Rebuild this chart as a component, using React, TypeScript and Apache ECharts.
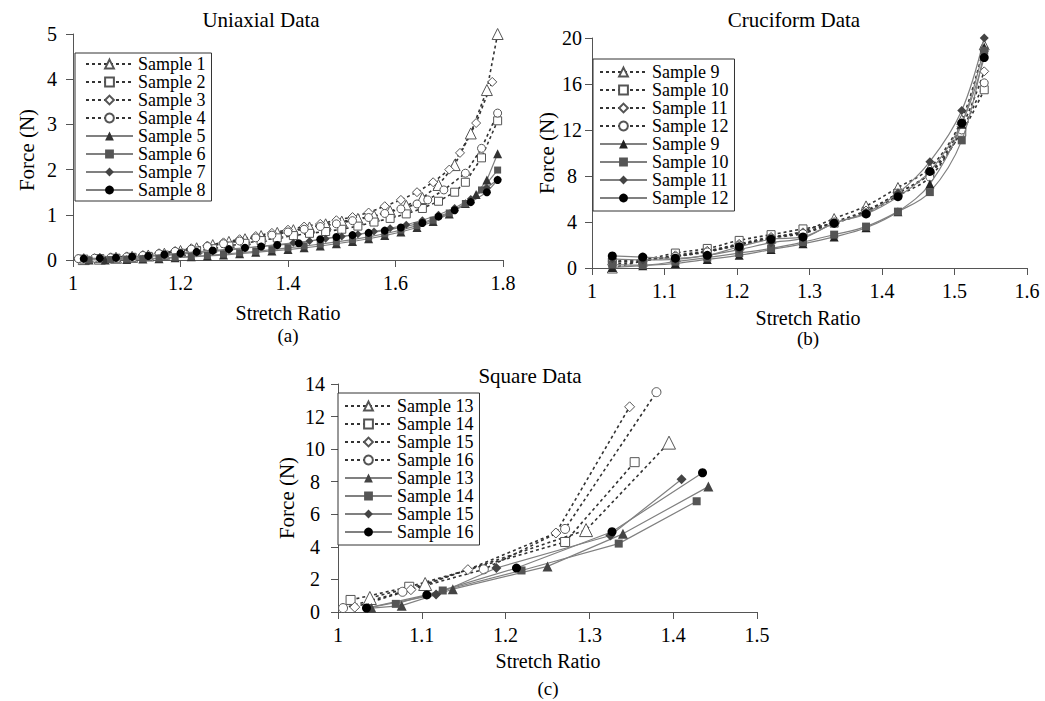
import React, { useEffect, useRef } from "react";
import * as echarts from "echarts";

const FONT = "Liberation Serif";

// ---------- (a) Uniaxial data ----------
const xA1 = [1.02,1.05,1.08,1.11,1.14,1.17,1.2,1.23,1.26,1.29,1.32,1.35,1.38,1.41,1.44,1.47,1.5,1.53,1.56,1.59,1.62,1.65,1.68,1.71,1.74,1.77,1.79];
const fA1 = [0.02,0.03,0.05,0.07,0.1,0.14,0.2,0.26,0.33,0.4,0.46,0.53,0.6,0.66,0.72,0.79,0.85,0.91,0.98,1.08,1.2,1.37,1.66,2.1,2.8,3.76,5.0];
const xA2 = [1.02,1.05,1.08,1.11,1.14,1.17,1.2,1.23,1.26,1.29,1.32,1.35,1.38,1.41,1.44,1.47,1.5,1.53,1.56,1.59,1.62,1.65,1.68,1.71,1.73,1.76,1.79];
const fA2 = [0.02,0.03,0.04,0.06,0.08,0.11,0.15,0.2,0.25,0.31,0.37,0.43,0.49,0.54,0.59,0.63,0.68,0.75,0.84,0.92,1.02,1.14,1.3,1.5,1.72,2.26,3.08];
const xA3 = [1.01,1.04,1.07,1.1,1.13,1.16,1.19,1.22,1.25,1.28,1.31,1.34,1.37,1.4,1.43,1.46,1.49,1.52,1.55,1.58,1.61,1.64,1.67,1.7,1.72,1.75,1.78];
const fA3 = [0.03,0.04,0.06,0.08,0.11,0.15,0.2,0.26,0.32,0.39,0.46,0.53,0.6,0.67,0.74,0.8,0.88,0.95,1.05,1.19,1.33,1.5,1.72,2.0,2.37,3.03,3.94];
const xA4 = [1.01,1.04,1.07,1.1,1.13,1.16,1.19,1.22,1.25,1.28,1.31,1.34,1.37,1.4,1.43,1.46,1.49,1.52,1.55,1.58,1.61,1.64,1.66,1.69,1.73,1.76,1.79];
const fA4 = [0.03,0.04,0.05,0.07,0.1,0.14,0.19,0.24,0.3,0.36,0.42,0.49,0.55,0.62,0.68,0.74,0.8,0.87,0.94,1.03,1.13,1.24,1.33,1.55,1.92,2.47,3.25];
const xA5 = [1.03,1.06,1.1,1.13,1.16,1.19,1.22,1.25,1.28,1.31,1.34,1.37,1.4,1.43,1.46,1.49,1.52,1.55,1.58,1.61,1.64,1.67,1.7,1.73,1.75,1.77,1.79];
const fA5 = [0,0,0.01,0.02,0.03,0.05,0.07,0.09,0.11,0.14,0.17,0.2,0.23,0.27,0.31,0.36,0.41,0.47,0.54,0.62,0.72,0.85,1.02,1.25,1.45,1.77,2.35];
const xA6 = [1.03,1.07,1.1,1.13,1.16,1.19,1.22,1.25,1.28,1.31,1.34,1.37,1.4,1.43,1.46,1.49,1.52,1.55,1.58,1.61,1.64,1.67,1.7,1.73,1.76,1.79];
const fA6 = [0,0.01,0.02,0.03,0.04,0.06,0.08,0.1,0.13,0.16,0.19,0.23,0.27,0.31,0.35,0.4,0.45,0.51,0.58,0.66,0.76,0.88,1.04,1.25,1.55,1.99];
const xA7 = [1.02,1.05,1.08,1.11,1.14,1.17,1.2,1.23,1.26,1.29,1.32,1.35,1.38,1.41,1.44,1.47,1.5,1.53,1.56,1.59,1.62,1.65,1.68,1.71,1.74,1.77,1.79];
const fA7 = [0.02,0.03,0.04,0.06,0.08,0.1,0.13,0.16,0.19,0.22,0.26,0.3,0.34,0.38,0.42,0.47,0.52,0.57,0.63,0.7,0.78,0.88,1.0,1.15,1.35,1.6,1.78];
const xA8 = [1.02,1.05,1.08,1.11,1.14,1.17,1.2,1.23,1.26,1.29,1.32,1.35,1.38,1.42,1.46,1.49,1.52,1.55,1.58,1.61,1.65,1.68,1.71,1.74,1.77,1.79];
const fA8 = [0.03,0.04,0.05,0.07,0.09,0.12,0.15,0.18,0.21,0.24,0.27,0.3,0.33,0.37,0.46,0.51,0.55,0.6,0.65,0.72,0.82,0.96,1.1,1.28,1.5,1.77];

// ---------- (b) Cruciform data ----------
const xB = [1.028,1.07,1.115,1.159,1.203,1.247,1.291,1.334,1.378,1.422,1.466,1.51,1.541];
const fB9o = [0,0.6,1.0,1.45,2.0,2.6,3.2,4.3,5.4,7.0,8.7,12.9,19.4];
const fB10o = [0.5,0.7,1.3,1.7,2.4,2.9,3.4,3.9,4.9,6.5,8.2,11.8,15.5];
const fB11o = [0.3,0.6,1.1,1.5,2.1,2.7,3.1,4.0,5.0,6.5,8.3,12.3,17.1];
const fB12o = [0.6,0.7,1.0,1.4,2.0,2.6,3.0,3.9,4.8,6.3,7.9,12.0,16.1];
const fB9f = [0.05,0.2,0.4,0.75,1.1,1.6,2.1,2.7,3.5,4.9,7.3,12.5,19.2];
const fB10f = [0.3,0.25,0.55,0.9,1.3,1.7,2.25,2.9,3.6,4.9,6.6,11.1,18.9];
const fB11f = [0.8,0.7,0.75,1.1,1.6,2.2,2.6,3.9,4.8,6.5,9.25,13.7,20.0];
const fB12f = [1.05,0.95,0.85,1.1,1.85,2.5,2.7,3.9,4.7,6.2,8.4,12.6,18.3];

// ---------- (c) Square data ----------
const xC13o = [1.038,1.104,1.296,1.395];
const fC13o = [0.86,1.72,5.03,10.4];
const xC14o = [1.015,1.085,1.271,1.354];
const fC14o = [0.74,1.55,4.3,9.2];
const xC15o = [1.02,1.087,1.155,1.26,1.348];
const fC15o = [0.3,1.37,2.6,4.85,12.6];
const xC16o = [1.006,1.077,1.174,1.271,1.38];
const fC16o = [0.24,1.24,2.62,5.1,13.5];
const xC13f = [1.04,1.076,1.137,1.25,1.34,1.442];
const fC13f = [0.24,0.39,1.4,2.8,4.8,7.7];
const xC14f = [1.069,1.125,1.219,1.335,1.428];
const fC14f = [0.5,1.32,2.55,4.2,6.8];
const xC15f = [1.036,1.117,1.189,1.325,1.41];
const fC15f = [0.25,1.07,2.7,4.7,8.15];
const xC16f = [1.034,1.106,1.213,1.327,1.435];
const fC16f = [0.24,1.05,2.7,4.93,8.55];

const zip = (xs: number[], ys: number[]) => xs.map((x, i) => [x, ys[i]]);

const openS = (name: string, gi: number, data: number[][], symbol: string, size: number, smooth: number | boolean) => ({
  type: "line", name, xAxisIndex: gi, yAxisIndex: gi, data, symbol, symbolSize: size, smooth,
  itemStyle: { color: "#fff", borderColor: "#555", borderWidth: 1 },
  lineStyle: { color: "#333", width: 1.6, type: [3, 3] },
  z: 3,
});
const fillS = (name: string, gi: number, data: number[][], symbol: string, size: number, color: string, smooth: number | boolean) => ({
  type: "line", name, xAxisIndex: gi, yAxisIndex: gi, data, symbol, symbolSize: size, smooth,
  itemStyle: { color, borderColor: color, borderWidth: 0 },
  lineStyle: { color: "#808080", width: 1.2, type: "solid" },
  z: 4,
});

const fmt = (v: number) => String(+v.toFixed(1));

const xAx = (gi: number, min: number, max: number, interval: number) => ({
  type: "value", gridIndex: gi, min, max, interval,
  axisLine: { show: true, lineStyle: { color: "#555", width: 1 } },
  axisTick: { show: true, length: 7, lineStyle: { color: "#555" } },
  splitLine: { show: false },
  axisLabel: { color: "#000", fontSize: 20, fontFamily: FONT, margin: 13, formatter: fmt },
});
const yAx = (gi: number, min: number, max: number, interval: number, margin: number) => ({
  type: "value", gridIndex: gi, min, max, interval,
  axisLine: { show: true, lineStyle: { color: "#555", width: 1 } },
  axisTick: { show: true, length: 7, lineStyle: { color: "#555" } },
  splitLine: { show: false },
  axisLabel: { color: "#000", fontSize: 20, fontFamily: FONT, margin, align: "center", formatter: fmt },
});

const legendOf = (left: number, top: number, names: string[], lh: number, pad: number[]) => ({
  orient: "vertical", left, top, itemWidth: 47, itemHeight: 11, itemGap: 0,
  padding: pad, backgroundColor: "#fff", borderColor: "#333", borderWidth: 1,
  selectedMode: false,
  textStyle: { fontSize: 18, fontFamily: FONT, color: "#000", lineHeight: lh },
  formatter: (n: string) => n.split("|")[0],
  data: names,
});

const txt = (text: string, x: number, y: number, size: number, rot = 0) => ({
  type: "text", x, y, rotation: rot,
  style: { text, fontSize: size, fontFamily: FONT, fill: "#000", align: "center", verticalAlign: "middle" },
});

export default function App() {
  const ref = useRef<HTMLDivElement>(null);
  useEffect(() => {
    if (!ref.current) return;
    const chart = echarts.init(ref.current, null, { renderer: "svg" });
    const sm = 0.35;
    const series = [
      openS("Sample 1", 0, zip(xA1, fA1), "triangle", 11, false),
      openS("Sample 2", 0, zip(xA2, fA2), "rect", 8, false),
      openS("Sample 3", 0, zip(xA3, fA3), "diamond", 9, false),
      openS("Sample 4", 0, zip(xA4, fA4), "circle", 8, false),
      fillS("Sample 5", 0, zip(xA5, fA5), "triangle", 9, "#333", false),
      fillS("Sample 6", 0, zip(xA6, fA6), "rect", 7, "#555", false),
      fillS("Sample 7", 0, zip(xA7, fA7), "diamond", 8, "#444", false),
      fillS("Sample 8", 0, zip(xA8, fA8), "circle", 8, "#000", false),

      openS("Sample 9|d", 1, zip(xB, fB9o), "triangle", 10, sm),
      openS("Sample 10|d", 1, zip(xB, fB10o), "rect", 8, sm),
      openS("Sample 11|d", 1, zip(xB, fB11o), "diamond", 9, sm),
      openS("Sample 12|d", 1, zip(xB, fB12o), "circle", 8, sm),
      fillS("Sample 9|s", 1, zip(xB, fB9f), "triangle", 9, "#222", sm),
      fillS("Sample 10|s", 1, zip(xB, fB10f), "rect", 8, "#555", sm),
      fillS("Sample 11|s", 1, zip(xB, fB11f), "diamond", 9, "#444", sm),
      fillS("Sample 12|s", 1, zip(xB, fB12f), "circle", 9, "#000", sm),

      openS("Sample 13|d", 2, zip(xC13o, fC13o), "triangle", 13, false),
      openS("Sample 14|d", 2, zip(xC14o, fC14o), "rect", 9, false),
      openS("Sample 15|d", 2, zip(xC15o, fC15o), "diamond", 10, false),
      openS("Sample 16|d", 2, zip(xC16o, fC16o), "circle", 9, false),
      fillS("Sample 13|s", 2, zip(xC13f, fC13f), "triangle", 10, "#444", false),
      fillS("Sample 14|s", 2, zip(xC14f, fC14f), "rect", 8, "#555", false),
      fillS("Sample 15|s", 2, zip(xC15f, fC15f), "diamond", 10, "#444", false),
      fillS("Sample 16|s", 2, zip(xC16f, fC16f), "circle", 9, "#000", false),
    ];
    const namesOf = (gi: number) => series.filter((s) => s.xAxisIndex === gi).map((s) => s.name);
    chart.setOption({
      animation: false,
      backgroundColor: "#fff",
      grid: [
        { left: 73, top: 34, width: 430, height: 226 },
        { left: 592, top: 38, width: 435, height: 230 },
        { left: 338, top: 384, width: 419, height: 228 },
      ],
      xAxis: [xAx(0, 1, 1.8, 0.2), xAx(1, 1, 1.6, 0.1), xAx(2, 1, 1.5, 0.1)],
      yAxis: [yAx(0, 0, 5, 1, 21), yAx(1, 0, 20, 4, 20), yAx(2, 0, 14, 2, 23)],
      legend: [
        legendOf(75, 53, namesOf(0), 18, [2, 6, 2, 10]),
        legendOf(593, 59, namesOf(1), 17, [4, 6, 4, 6]),
        legendOf(338, 393, namesOf(2), 17.8, [4, 6, 4, 6]),
      ],
      graphic: [
        txt("Uniaxial Data", 261, 20, 21),
        txt("Cruciform Data", 794, 20, 21),
        txt("Square Data", 530, 376, 21),
        txt("Force (N)", 27, 150, 21, Math.PI / 2),
        txt("Force (N)", 547, 153, 21, Math.PI / 2),
        txt("Force (N)", 287, 498, 21, Math.PI / 2),
        txt("Stretch Ratio", 288, 313, 20),
        txt("(a)", 288, 335, 19),
        txt("Stretch Ratio", 808, 318, 20),
        txt("(b)", 808, 338, 19),
        txt("Stretch Ratio", 548, 661, 20),
        txt("(c)", 548, 688, 19),
      ],
      series,
    });
    return () => chart.dispose();
  }, []);
  return <div ref={ref} style={{ position: "fixed", left: 0, top: 0, width: 1045, height: 701 }} />;
}
